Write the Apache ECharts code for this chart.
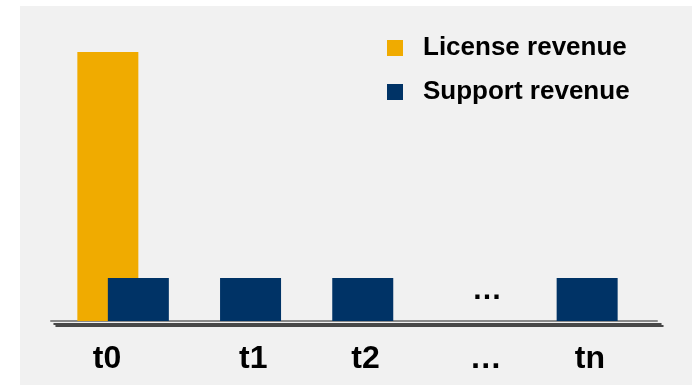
<!DOCTYPE html>
<html>
<head>
<meta charset="utf-8">
<script src="https://cdn.jsdelivr.net/npm/echarts@6/dist/echarts.min.js"></script>
<style>
  html, body { margin: 0; padding: 0; background: #ffffff; }
  #wrap { position: relative; width: 693px; height: 385px; }
  #bg { position: absolute; left: 20px; top: 6px; width: 672px; height: 379px; background: #f1f1f1; }
  #main { position: absolute; left: 0; top: 0; width: 693px; height: 385px; }
</style>
</head>
<body>
<div id="wrap">
  <div id="bg"></div>
  <div id="main"></div>
</div>
<script>
// 数据
var categories = ['t0', 't1', 't2', '…', 'tn'];
var licenseRevenue = [100, null, null, null, null];
var supportRevenue = [16, 16, 16, null, 16];
var seriesNames = ['License revenue', 'Support revenue'];

var yellow = '#F0AB00';
var navy = '#003366';
var font = 'Liberation Sans, Arial, sans-serif';

var myChart = echarts.init(document.getElementById('main'));

// 省略号那一格：柱子不画，只放一个 "…"
var supportData = supportRevenue.map(function (v, i) {
  if (v == null) {
    return {
      value: 16,
      itemStyle: { color: 'transparent' },
      label: {
        show: true, position: 'inside', formatter: '…', offset: [12, -9],
        color: '#000', fontSize: 30, fontWeight: 'bold', fontFamily: font
      }
    };
  }
  return v;
});

// 三条轴线（灰 + 两条黑）
function lineGrid(left, right, bottom) {
  return { left: left, right: right, top: 52, bottom: bottom };
}
function lineAxis(idx, color, width) {
  return {
    type: 'category', gridIndex: idx, data: categories,
    axisLine: { show: true, lineStyle: { color: color, width: width } },
    axisTick: { show: false }, axisLabel: { show: false }, splitLine: { show: false }
  };
}

option = {
  animation: false,
  backgroundColor: 'transparent',
  legend: {
    orient: 'vertical',
    left: 387,
    top: 35,
    padding: 0,
    itemWidth: 16,
    itemHeight: 16,
    itemGap: 18,
    icon: 'rect',
    data: seriesNames,
    textStyle: {
      fontFamily: font, fontSize: 26, fontWeight: 'bold', color: '#000',
      padding: [0, 0, 0, 15]
    }
  },
  grid: [
    { left: 67, right: 65, top: 52, bottom: 64 },
    lineGrid(51, 36, 64),
    lineGrid(54, 32, 61.5),
    lineGrid(56, 30, 59)
  ],
  xAxis: [
    {
      type: 'category', gridIndex: 0, data: categories,
      axisLine: { show: false }, axisTick: { show: false },
      axisLabel: {
        margin: 22,
        formatter: function (v) {
          if (v == 't0') return '{a|' + v + '}';
          if (v == '…') return '{c|' + v + '}';
          return '{b|' + v + '}';
        },
        rich: {
          a: { fontFamily: font, fontSize: 32, fontWeight: 'bold', color: '#000', padding: [0, 32, 0, 0] },
          b: { fontFamily: font, fontSize: 32, fontWeight: 'bold', color: '#000', padding: [0, 0, 0, 36] },
          c: { fontFamily: font, fontSize: 32, fontWeight: 'bold', color: '#000', padding: [0, 0, 0, 52] }
        }
      }
    },
    lineAxis(1, '#8a8a8a', 2),
    lineAxis(2, '#111111', 1.5),
    lineAxis(3, '#111111', 1.5)
  ],
  yAxis: [
    { type: 'value', gridIndex: 0, min: 0, max: 100, show: false },
    { type: 'value', gridIndex: 1, show: false },
    { type: 'value', gridIndex: 2, show: false },
    { type: 'value', gridIndex: 3, show: false }
  ],
  series: [
    {
      name: seriesNames[0], type: 'bar', barWidth: 61, barGap: '-50%',
      itemStyle: { color: yellow }, data: licenseRevenue
    },
    {
      name: seriesNames[1], type: 'bar', barWidth: 61, barGap: '-50%',
      itemStyle: { color: navy }, data: supportData, z: 3
    }
  ]
};

myChart.setOption(option);
</script>
</body>
</html>
